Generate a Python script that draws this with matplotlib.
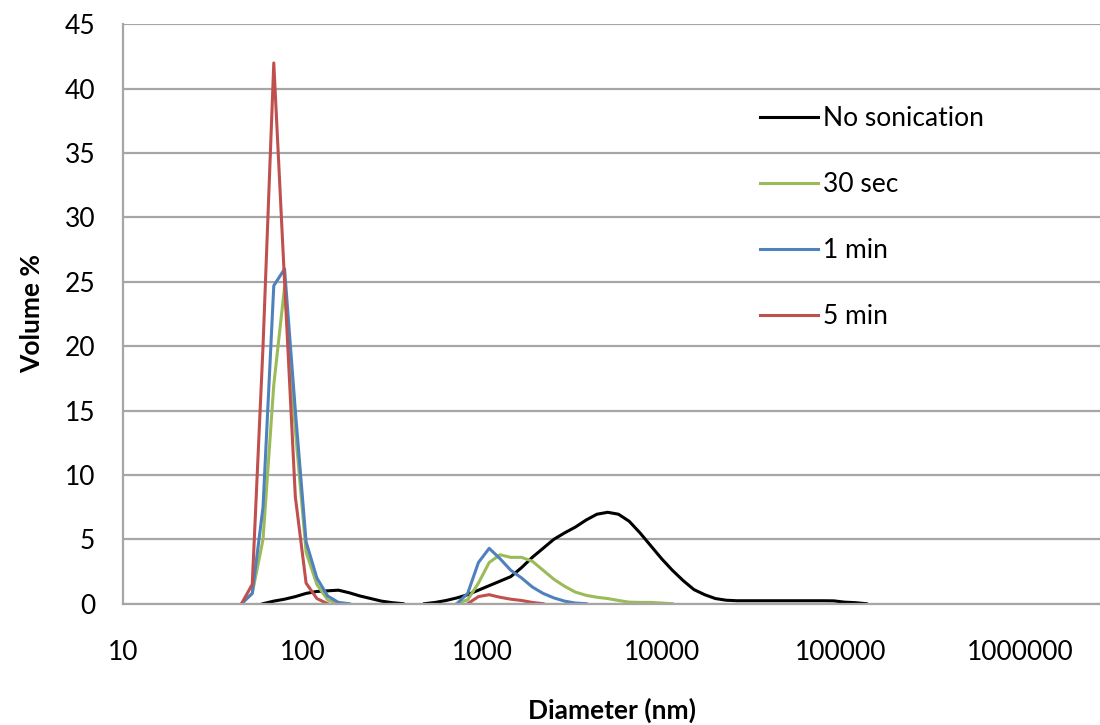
#!/usr/bin/env python

### Import modules ###
#
import numpy as np
import matplotlib
matplotlib.use('Agg')
import matplotlib.pyplot as plt

### Data ###
#
n = np.nan

# size bins, nm
diameter = [45.71, 52.48, 60.26, 69.18, 79.43, 91.20, 104.7, 120.2, 138.0, 158.5,
            182.0, 208.9, 239.9, 275.4, 316.2, 363.1, 416.9, 478.6, 549.5, 631.0,
            724.4, 831.8, 955.0, 1096, 1259, 1445, 1660, 1905, 2188, 2512,
            2884, 3311, 3802, 4365, 5012, 5754, 6607, 7586, 8710, 10000,
            11482, 13183, 15136, 17378, 19953, 22909, 26303, 30200, 34674, 39811,
            45709, 52481, 60256, 69183, 79433, 91201, 104713, 120226, 138038]

no_sonication = [n, n, 0, 0.2, 0.35, 0.55, 0.8, 0.95, 1.0, 1.05,
                 0.85, 0.6, 0.4, 0.2, 0.08, 0, n, 0, 0.1, 0.25,
                 0.45, 0.7, 1.05, 1.4, 1.75, 2.1, 2.8, 3.6, 4.3, 5.0,
                 5.5, 5.95, 6.5, 6.95, 7.1, 6.95, 6.4, 5.5, 4.5, 3.5,
                 2.6, 1.8, 1.1, 0.7, 0.4, 0.27, 0.23, 0.23, 0.23, 0.23,
                 0.23, 0.23, 0.23, 0.23, 0.23, 0.22, 0.12, 0.08, 0]

sec_30 = [0, 0.8, 5.0, 17.0, 24.6, 13.5, 4.0, 1.5, 0.3, 0,
          n, n, n, n, n, n, n, n, n, n,
          0, 0.3, 1.6, 3.2, 3.8, 3.6, 3.6, 3.3, 2.6, 1.9,
          1.35, 0.9, 0.65, 0.5, 0.4, 0.25, 0.12, 0.1, 0.1, 0.05,
          0, n, n, n, n, n, n, n, n, n,
          n, n, n, n, n, n, n, n, n]

min_1 = [0, 0.8, 7.5, 24.7, 26.0, 15.0, 4.8, 2.0, 0.6, 0.1,
         0, n, n, n, n, n, n, n, n, n,
         0, 0.8, 3.2, 4.3, 3.5, 2.6, 2.0, 1.3, 0.8, 0.45,
         0.2, 0.05, 0, n, n, n, n, n, n, n,
         n, n, n, n, n, n, n, n, n, n,
         n, n, n, n, n, n, n, n, n]

min_5 = [0, 1.5, 20.0, 42.0, 25.0, 8.3, 1.6, 0.4, 0, n,
         n, n, n, n, n, n, n, n, n, n,
         n, 0, 0.55, 0.7, 0.5, 0.35, 0.25, 0.1, 0, n,
         n, n, n, n, n, n, n, n, n, n,
         n, n, n, n, n, n, n, n, n, n,
         n, n, n, n, n, n, n, n, n]

series_labels = ['No sonication', '30 sec', '1 min', '5 min']
series_colors = ['#000000', '#9BBB59', '#4F81BD', '#C0504D']
yticks = [0, 5, 10, 15, 20, 25, 30, 35, 40, 45]
xticks = [10, 100, 1000, 10000, 100000, 1000000]
xtick_labels = ['10', '100', '1000', '10000', '100000', '1000000']

### Plot ###
#
plt.rcParams['font.family'] = ['Lato', 'DejaVu Sans']

fig = plt.figure(figsize=(11, 7.25), dpi=100)
ax = fig.add_axes([123/1100, 121.3/725, 977/1100, 579.4/725])

for vals, lab, col in zip([no_sonication, sec_30, min_1, min_5], series_labels, series_colors):
    ax.plot(diameter, vals, color=col, lw=2.2, label=lab, solid_joinstyle='round')

ax.set_xscale('log')
ax.set_xlim(10, 2.77e6)
ax.set_ylim(0, 45)
ax.set_xticks(xticks)
ax.set_xticklabels(xtick_labels)
ax.xaxis.set_minor_locator(matplotlib.ticker.NullLocator())
ax.set_yticks(yticks)

ax.grid(axis='y', color='#a6a6a6', lw=1.6)
ax.set_axisbelow(True)
for s in ['top', 'right']:
    ax.spines[s].set_visible(False)
for s in ['left', 'bottom']:
    ax.spines[s].set_color('#a6a6a6')
    ax.spines[s].set_linewidth(1.6)

ax.tick_params(axis='both', length=0, labelsize=19, colors='#000000')
ax.tick_params(axis='y', pad=20)
ax.tick_params(axis='x', pad=26)

ax.set_xlabel('Diameter (nm)', fontsize=19, fontweight='bold', labelpad=24)
ax.set_ylabel('Volume %', fontsize=19, fontweight='bold', labelpad=15)

ax.legend(loc='upper left', bbox_to_anchor=(760/1100, 1 - 106/725),
          bbox_transform=fig.transFigure, frameon=False, fontsize=19,
          handlelength=2.2, handletextpad=0.2, labelspacing=1.56, borderpad=0,
          borderaxespad=0)

fig.savefig('out.png', dpi=100)
